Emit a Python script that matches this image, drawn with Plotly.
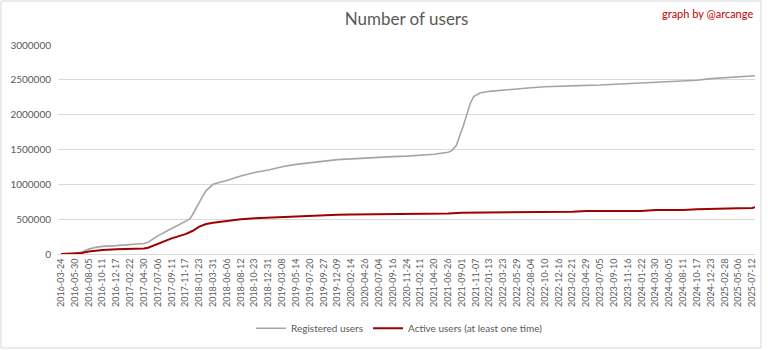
import plotly.graph_objects as go

# Category-axis tick labels (one every 67 samples of the original daily series)
tick_labels = [
    "2016-03-24", "2016-05-30", "2016-08-05", "2016-10-11", "2016-12-17", "2017-02-22",
    "2017-04-30", "2017-07-06", "2017-09-11", "2017-11-17", "2018-01-23", "2018-03-31",
    "2018-06-06", "2018-08-12", "2018-10-23", "2018-12-31", "2019-03-08", "2019-05-14",
    "2019-07-20", "2019-09-27", "2019-12-09", "2020-02-14", "2020-04-26", "2020-07-04",
    "2020-09-16", "2020-11-24", "2021-02-11", "2021-04-20", "2021-06-26", "2021-09-01",
    "2021-11-07", "2022-01-13", "2022-03-23", "2022-05-29", "2022-08-04", "2022-10-10",
    "2022-12-16", "2023-02-21", "2023-04-29", "2023-07-05", "2023-09-10", "2023-11-16",
    "2024-01-22", "2024-03-30", "2024-06-05", "2024-08-11", "2024-10-17", "2024-12-23",
    "2025-02-28", "2025-05-06", "2025-07-12",
]

# Registered users: sample position (in tick-label steps) and value
reg_pos = [0, 1, 1.5, 2, 2.5, 3, 4, 5, 6, 6.3, 7, 8, 9, 9.3, 9.5, 9.75, 10, 10.25, 10.5,
           10.75, 11, 11.5, 12, 13, 14, 15, 16, 17, 18, 19, 20, 21, 22, 23, 24, 25, 26, 27, 28,
           28.25, 28.6, 28.85, 29.1, 29.35, 29.6, 29.85, 30.3, 31, 32, 33, 34, 35, 36, 37,
           38, 39, 40, 41, 42, 43, 44, 45, 46, 47, 48, 49, 50, 50.2]
reg_val = [0, 5000, 30000, 70000, 95000, 110000, 120000, 130000, 150000, 170000, 260000,
           365000, 470000, 500000, 560000, 650000, 760000, 830000, 910000,
           960000, 1000000, 1030000, 1055000, 1120000, 1170000, 1206000, 1253000, 1287000,
           1310000, 1335000, 1354000,
           1365000, 1378000, 1390000, 1398000, 1405000, 1415000, 1432000, 1460000,
           1480000, 1560000, 1690000, 1840000, 2000000, 2160000, 2260000, 2310000, 2335000,
           2354000, 2373000, 2387000, 2400000, 2410000, 2418000,
           2420000, 2425000, 2435000, 2445000, 2455000, 2465000, 2473000, 2480000, 2494000,
           2517000, 2530000, 2535000, 2555000, 2558000]

# Active users (at least one time)
act_pos = [0, 1, 1.5, 2, 2.5, 3, 4, 5, 6, 6.3, 7, 8, 9, 9.5, 10, 10.5, 11, 12, 13, 14, 15,
           16, 17, 18, 19, 20, 21, 22, 23, 24, 25, 26, 27, 28, 29, 30, 31, 32, 33, 34, 35,
           36, 37, 38, 39, 40, 41, 42, 43, 44, 45, 46, 47, 48, 49, 50, 50.2]
act_val = [0, 3000, 15000, 35000, 50000, 57000, 67000, 72000, 80000, 90000, 150000, 225000,
           285000, 330000, 392000, 430000, 450000, 476000, 498000, 512000, 520000, 528000,
           540000, 552000, 562000, 565000, 566000, 567000, 569000, 578000, 580000, 581000,
           582000, 583000, 592000, 593000, 594000, 605000, 605000, 606000, 606000, 607000,
           607000, 617000, 617000, 618000, 618000, 619000, 630000, 630000, 631000, 643000,
           644000, 655000, 656000, 660000, 670000]

TEXT = "#595959"
FONT = "Lato, 'Open Sans', sans-serif"

fig = go.Figure()
fig.add_trace(go.Scatter(x=reg_pos, y=reg_val, mode="lines", name="Registered users",
                         line=dict(color="#a5a5a5", width=1.6)))
fig.add_trace(go.Scatter(x=act_pos, y=act_val, mode="lines",
                         name="Active users (at least one time)",
                         line=dict(color="#a00000", width=2)))

fig.update_layout(
    width=768, height=350,
    margin=dict(l=58, r=13, t=45, b=96, autoexpand=False),
    paper_bgcolor="white", plot_bgcolor="white",
    font=dict(family=FONT, size=10, color=TEXT),
    title=dict(text="Number of users", x=0.5, xref="paper", y=0.947, yanchor="middle",
               font=dict(size=17, color=TEXT, family=FONT)),
    showlegend=True,
    legend=dict(orientation="h", x=0.49, xanchor="center", y=-0.355, yanchor="middle",
                font=dict(size=10, color=TEXT), itemwidth=30, bgcolor="rgba(0,0,0,0)"),
    xaxis=dict(range=[-0.22, 50.2], tickmode="array", automargin=False,
               tickvals=list(range(len(tick_labels))), ticktext=tick_labels,
               tickangle=-90, showgrid=False, zeroline=False, showline=True,
               linecolor="#d9d9d9", linewidth=1, ticks="", tickfont=dict(size=9, color=TEXT)),
    yaxis=dict(range=[0, 3000000], dtick=500000, tickformat="d", showgrid=True,
               automargin=False,
               gridcolor="#d9d9d9", gridwidth=1, zeroline=False, showline=False, ticks="",
               ticklabelstandoff=6, tickfont=dict(size=10, color=TEXT)),
    annotations=[dict(text="graph by @arcange", xref="paper", yref="paper", x=1.0, y=1.15,
                      xanchor="right", yanchor="middle", showarrow=False,
                      font=dict(size=11, color="#c00000", family=FONT))],
    shapes=[dict(type="rect", xref="paper", yref="paper", x0=-0.0818, x1=1.0086,
                 y0=-0.4498, y1=1.2105, line=dict(color="#d9d9d9", width=1),
                 layer="below")],
)

fig.write_html("out.html")
